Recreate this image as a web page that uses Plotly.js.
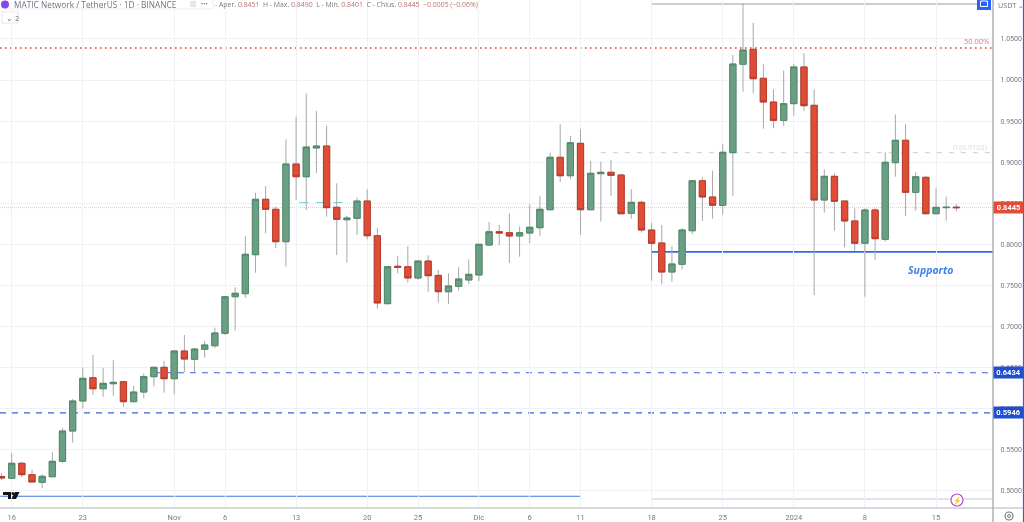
<!DOCTYPE html>
<html><head><meta charset="utf-8">
<script src="https://cdn.plot.ly/plotly-3.0.1.min.js"></script>
<style>html,body{margin:0;padding:0;background:#fff;overflow:hidden}#c{width:1024px;height:522px;filter:blur(0.35px)}</style>
</head><body><div id="c"></div>
<script>
const dates=["2023-10-15","2023-10-16","2023-10-17","2023-10-18","2023-10-19","2023-10-20","2023-10-21","2023-10-22","2023-10-23","2023-10-24","2023-10-25","2023-10-26","2023-10-27","2023-10-28","2023-10-29","2023-10-30","2023-10-31",
"2023-11-01","2023-11-02","2023-11-03","2023-11-04","2023-11-05","2023-11-06","2023-11-07","2023-11-08","2023-11-09","2023-11-10","2023-11-11","2023-11-12","2023-11-13","2023-11-14","2023-11-15","2023-11-16","2023-11-17","2023-11-18","2023-11-19","2023-11-20","2023-11-21","2023-11-22","2023-11-23","2023-11-24","2023-11-25","2023-11-26","2023-11-27","2023-11-28","2023-11-29","2023-11-30",
"2023-12-01","2023-12-02","2023-12-03","2023-12-04","2023-12-05","2023-12-06","2023-12-07","2023-12-08","2023-12-09","2023-12-10","2023-12-11","2023-12-12","2023-12-13","2023-12-14","2023-12-15","2023-12-16","2023-12-17","2023-12-18","2023-12-19","2023-12-20","2023-12-21","2023-12-22","2023-12-23","2023-12-24","2023-12-25","2023-12-26","2023-12-27","2023-12-28","2023-12-29","2023-12-30","2023-12-31",
"2024-01-01","2024-01-02","2024-01-03","2024-01-04","2024-01-05","2024-01-06","2024-01-07","2024-01-08","2024-01-09","2024-01-10","2024-01-11","2024-01-12","2024-01-13","2024-01-14","2024-01-15","2024-01-16","2024-01-17"];
const opens=[.5170,.5148,.5331,.5192,.5099,.5167,.5355,.5724,.6090,.6373,.6239,.6300,.6325,.6081,.6199,.6386,.6500,
.6361,.6699,.6598,.6719,.6763,.6914,.7360,.7397,.7872,.8547,.8425,.8030,.8977,.8822,.9172,.9196,.8450,.8298,.8315,.8526,.8103,.7275,.7731,.7726,.7588,.7795,.7620,.7421,.7487,.7564,
.7625,.7990,.8152,.8140,.8100,.8136,.8201,.8420,.9059,.8834,.9229,.8420,.8859,.8876,.8843,.8376,.8510,.8173,.8015,.7661,.7755,.8164,.8773,.8575,.8474,.9115,1.0192,1.0374,1.0021,.9732,.9509,
.9712,1.0159,.9692,.8538,.8827,.8526,.8283,.8011,.8417,.8060,.8993,.9266,.8632,.8815,.8371,.8445,.8451];
const highs=[.5212,.5456,.5350,.5249,.5200,.5468,.5764,.6114,.6500,.6650,.6495,.6589,.6325,.6272,.6427,.6507,.6577,
.6699,.6894,.6732,.6821,.6983,.7360,.7475,.8100,.8627,.8709,.8457,.9278,.9553,.9838,.9623,.9444,.8742,.8343,.8571,.8669,.8201,.7726,.7856,.7978,.7795,.7865,.7686,.7645,.7718,.7816,
.7999,.8270,.8234,.8376,.8213,.8490,.8587,.9115,.9461,.9318,.9400,.9014,.9005,.9026,.8855,.8669,.8530,.8262,.8234,.7978,.8194,.8773,.8815,.8895,.9221,1.0305,1.0935,1.0698,1.0192,.9887,1.0114,
1.0195,1.0326,.9887,.8912,.8864,.8526,.8437,.8437,.8437,.9120,.9582,.9461,.8876,.8834,.8681,.8579,.8490];
const lows=[.5127,.5140,.5160,.5103,.5026,.5160,.5338,.5582,.6001,.6163,.6142,.6154,.6020,.6081,.6123,.6264,.6191,
.6171,.6439,.6439,.6617,.6732,.6894,.6946,.7348,.7653,.8133,.7950,.7726,.8538,.8417,.8864,.8335,.7868,.7775,.8112,.8060,.7214,.7275,.7645,.7531,.7564,.7421,.7287,.7271,.7434,.7515,
.7551,.7978,.7990,.7771,.7848,.8011,.8100,.8420,.8758,.8791,.8112,.8420,.8274,.8587,.8364,.8311,.8140,.7555,.7511,.7543,.7694,.8121,.8283,.8311,.8356,.8587,.9858,.9838,.9407,.9412,.9440,
.9565,.9623,.7381,.8384,.8164,.7962,.7921,.7360,.7807,.8031,.8822,.8343,.8408,.8371,.8371,.8286,.8401];
const closes=[.5151,.5331,.5192,.5103,.5172,.5355,.5724,.6090,.6366,.6239,.6305,.6317,.6081,.6199,.6386,.6500,.6361,
.6699,.6601,.6723,.6772,.6918,.7360,.7402,.7877,.8547,.8425,.8030,.8977,.8822,.9184,.9196,.8445,.8303,.8319,.8526,.8103,.7284,.7726,.7719,.7588,.7795,.7616,.7421,.7491,.7576,.7633,
.7999,.8152,.8136,.8100,.8140,.8206,.8425,.9059,.8834,.9236,.8420,.8864,.8876,.8839,.8371,.8510,.8173,.8011,.7661,.7759,.8173,.8773,.8575,.8474,.9120,1.0195,1.0366,1.0016,.9732,.9509,.9712,
1.0159,.9687,.8538,.8827,.8523,.8283,.8011,.8417,.8067,.8998,.9266,.8632,.8822,.8371,.8449,.8450,.8445];

const tickDates=["2023-10-16","2023-10-23","2023-11-01","2023-11-06","2023-11-13","2023-11-20","2023-11-25","2023-12-01","2023-12-06","2023-12-11","2023-12-18","2023-12-25","2024-01-01","2024-01-08","2024-01-15"];
const tickLabels=["16","23","Nov","6","13","20","25","Dic","6","11","18","25","2024","8","15"];

const lastPrice=0.8445, dashA=0.6434, dashB=0.5946, fib50=1.0390, fib0=0.9115, support=0.7906;
const boxTop=1.0926, boxBottom=0.4896, lowBlue=0.4929, cyanLevel=0.8502;
const headerName="MATIC Network / TetherUS · 1D · BINANCE";
const ohlcText=["0.8451","0.8490","0.8401","0.8445","−0.0005 (−0.06%)"];

const W=993,H=508,GREEN='#6a9f83',GREENL='#4f8a6b',RED='#e04c36',REDL='#b53c2b',WICK='#a8a8a8';
const bodyHi=opens.map((o,i)=>Math.max(o,closes[i])), bodyLo=opens.map((o,i)=>Math.min(o,closes[i]));
const wick={type:'candlestick',x:dates,open:opens,high:highs,low:lows,close:closes,whiskerwidth:0,hoverinfo:'skip',showlegend:false,
  increasing:{line:{color:WICK,width:1},fillcolor:WICK},decreasing:{line:{color:WICK,width:1},fillcolor:WICK}};
const body={type:'candlestick',x:dates,open:opens,high:bodyHi,low:bodyLo,close:closes,whiskerwidth:0,showlegend:false,
  increasing:{line:{color:GREENL,width:1},fillcolor:GREEN},decreasing:{line:{color:REDL,width:1},fillcolor:RED}};

const px=x=>x/W, py=y=>1-y/H;
const RIGHT='2024-01-20 14:00';
const hl=(x0,x1,y,color,width,dash,xref)=>({type:'line',xref:xref||'x',yref:'y',x0,x1,y0:y,y1:y,layer:'below',line:{color,width,dash:dash||'solid'}});
const shapes=[
 hl(0,1,lastPrice,'#f6bdb7',1,'1px,1px','paper'),
 hl(0,1,fib50,'#e0403a',1.6,'1.6px,3.4px','paper'),
 hl('2023-12-13',RIGHT,fib0,'#d6d6d6',1.2,'5px,7px'),
 hl('2023-12-18',RIGHT,support,'#2f6be0',1.8),
 hl('2023-10-30',RIGHT,dashA,'#3a5fdc',1.2,'6px,6px'),
 hl(0,1,dashB,'#3a5fdc',1.2,'6px,6px','paper'),
 hl('2023-10-14 21:00','2023-12-11',lowBlue,'#3f74e6',1.2),
 hl('2023-12-18','2024-01-19 03:00',boxTop,'#bdbdbd',1.5),
 hl('2023-12-18',RIGHT,boxBottom,'#d8dbe6',1.6),
 hl('2023-11-13 08:00','2023-11-18',cyanLevel,'#3fc6dc',1.6,'9px,8px'),
 {type:'line',xref:'paper',yref:'paper',x0:1,x1:1,y0:py(522),y1:1,line:{color:'#9a9da6',width:1.2}},
 {type:'line',xref:'paper',yref:'paper',x0:0,x1:px(1024),y0:0,y1:0,line:{color:'#b0b3bb',width:1.2}},
 {type:'line',xref:'paper',yref:'paper',x0:px(1023.5),x1:px(1023.5),y0:py(522),y1:1,line:{color:'#2962ff',width:1.2}},
 {type:'rect',xref:'paper',yref:'paper',x0:px(-3),x1:px(213),y0:py(9),y1:py(-4),fillcolor:'#fff',line:{color:'#eceef3',width:1}},
 {type:'rect',xref:'paper',yref:'paper',x0:px(2),x1:px(18),y0:py(23),y1:py(12),fillcolor:'#fff',line:{color:'#e6e8ee',width:1}},
 {type:'circle',xref:'paper',yref:'paper',x0:px(1),x1:px(9),y0:py(8.5),y1:py(.5),fillcolor:'#8247e5',line:{width:0}},
 {type:'rect',xref:'paper',yref:'paper',x0:px(977),x1:px(991),y0:py(10),y1:py(-2),fillcolor:'#2962ff',line:{width:0}},
 {type:'rect',xref:'paper',yref:'paper',x0:px(980.5),x1:px(987.5),y0:py(6.5),y1:py(1),fillcolor:'rgba(0,0,0,0)',line:{color:'#fff',width:1}},
 {type:'circle',xref:'paper',yref:'paper',x0:px(951),x1:px(963),y0:py(506),y1:py(494),fillcolor:'#fff',line:{color:'#b44fe0',width:1.2}},
 {type:'circle',xref:'paper',yref:'paper',x0:px(1005),x1:px(1013),y0:py(520),y1:py(512),fillcolor:'#fff',line:{color:'#777',width:1.2}},
 {type:'circle',xref:'paper',yref:'paper',x0:px(1007.5),x1:px(1010.5),y0:py(517.5),y1:py(514.5),fillcolor:'#fff',line:{color:'#777',width:1}},
 {type:'path',xref:'paper',yref:'paper',fillcolor:'#111',line:{width:0},path:`M ${px(3)} ${py(492)} L ${px(11)} ${py(492)} L ${px(11)} ${py(499)} L ${px(8)} ${py(499)} L ${px(8)} ${py(495)} L ${px(3)} ${py(495)} Z M ${px(15)} ${py(492)} L ${px(19.5)} ${py(492)} L ${px(16)} ${py(499)} L ${px(11.5)} ${py(499)} Z`},
 {type:'circle',xref:'paper',yref:'paper',fillcolor:'#111',line:{width:0},x0:px(11.5),x1:px(14.5),y0:py(495),y1:py(492)}
];
const F='"Open Sans", sans-serif';
const pa=(x,y,text,size,color,anchor,extra)=>Object.assign({xref:'paper',yref:'paper',x:px(x),y:py(y),text,showarrow:false,xanchor:anchor||'left',yanchor:'middle',borderpad:0,font:{family:F,size,color}},extra||{});
const v=s=>`<span style="color:#b8706a">${s}</span>`;
const tag=(val,bg)=>({xref:'paper',yref:'y',x:1,y:val,xanchor:'left',yanchor:'middle',showarrow:false,text:'<b>'+val.toFixed(4)+'</b>',width:29,height:11,align:'center',bgcolor:bg,borderpad:0,font:{family:'Roboto, sans-serif',size:7.5,color:'#fff'}});
const annotations=[
 pa(13,5,headerName,8.3,'#6f7380'),
 pa(189,4,'▥',7,'#c8cad0'),
 pa(200,4,'•••',6,'#6f7380'),
 pa(214,4.5,`- Aper. ${v(ohlcText[0])}  H - Max. ${v(ohlcText[1])}  L - Min. ${v(ohlcText[2])}  C - Chius. ${v(ohlcText[3])}  ${v(ohlcText[4])}`,6.9,'#787b86'),
 pa(5,17.5,'⌄ 2',7.5,'#6f7380'),
 pa(990,41.5,'50.00%',7.5,'#e57a78','right'),
 pa(988,147,'0 (0.9102)',7.5,'#d9d9d9','right'),
 {xref:'x',yref:'y',x:'2024-01-14 12:00',y:0.7685,text:'<b><i>Supporto</i></b>',showarrow:false,font:{family:F,size:10.5,color:'#3f80ea'}},
 pa(997,5.5,'USDT ⌄',7.2,'#6f7380'),
 pa(957,500,'⚡',7,'#b44fe0','center'),
 tag(lastPrice,'#e04c36'),tag(dashA,'#1f4ecf'),tag(dashB,'#1f4ecf')
];
const layout={width:1024,height:522,margin:{l:0,r:31,t:0,b:14,pad:0},paper_bgcolor:'#fff',plot_bgcolor:'#fff',showlegend:false,boxgap:0.12,
 xaxis:{type:'date',range:['2023-10-14 20:21','2024-01-20 14:38'],tickmode:'array',tickvals:tickDates,ticktext:tickLabels,tickangle:0,rangeslider:{visible:false},
   showgrid:true,gridcolor:'#eff1f6',gridwidth:1,zeroline:false,showline:false,ticks:'outside',ticklen:2,tickcolor:'rgba(0,0,0,0)',tickfont:{family:'Roboto, sans-serif',size:7.5,color:'#787b86'},fixedrange:true},
 yaxis:{side:'right',range:[0.4786,1.0975],tick0:0.5,dtick:0.05,tickformat:'.4f',showgrid:true,gridcolor:'#eff1f6',gridwidth:1,zeroline:false,showline:false,ticks:'outside',ticklen:5,tickcolor:'rgba(0,0,0,0)',tickfont:{family:'Roboto, sans-serif',size:7,color:'#787b86'},fixedrange:true},
 shapes,annotations};
Plotly.newPlot('c',[wick,body],layout,{displayModeBar:false,staticPlot:true});
</script></body></html>
